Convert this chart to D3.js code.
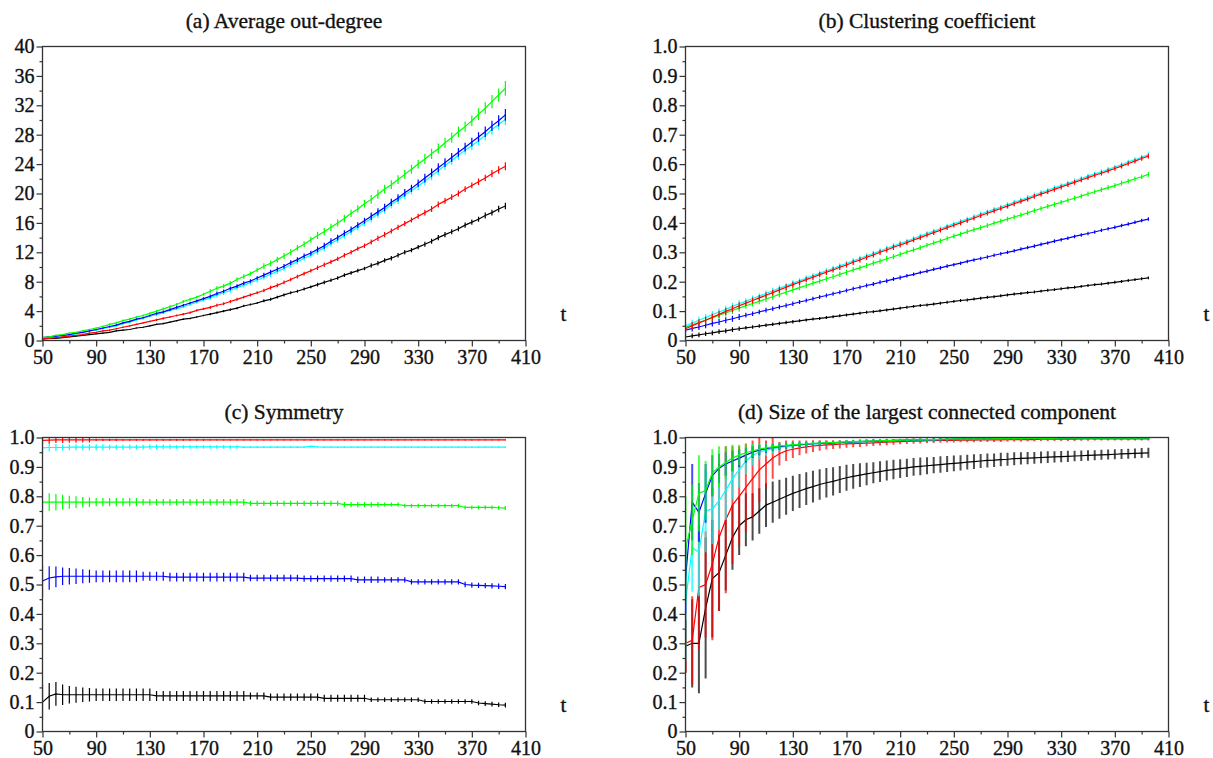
<!DOCTYPE html>
<html>
<head>
<meta charset="utf-8">
<script src="https://cdn.jsdelivr.net/npm/d3@7"></script>
<style>
  body { margin: 0; background: #fff; }
  text { font-family: "Liberation Serif", "Times New Roman", serif; fill: #111; stroke: #111; stroke-width: 0.35px; }
</style>
</head>
<body>
<svg width="1213" height="758"></svg>
<script>
// time steps (x categories)
var tValues = d3.range(50, 400, 5);

// (a) average out-degree
var degGreen = [0.4,0.5,0.7,0.8,1.0,1.1,1.3,1.5,1.7, 1.9,2.2,2.4,2.7,2.9,3.2,3.4,3.7, 4.0,4.3,4.6,4.9,5.3,5.6,5.9,6.3, 6.7,7.1,7.4,7.8,8.3,8.7,9.1,9.6, 10.1,10.5,11.0,11.5,12.0,12.6,13.1,13.7, 14.3,14.8,15.4,16.0,16.6,17.3,17.9,18.6, 19.2,19.9,20.6,21.2,21.9,22.6,23.3,24.0, 24.7,25.4,26.1,26.9,27.6,28.4,29.1,29.9, 30.8,31.6,32.5,33.4,34.3];
var degBlue = [0.4,0.5,0.6,0.7,0.8,1.0,1.1,1.3,1.5, 1.7,1.9,2.1,2.4,2.6,2.9,3.1,3.4, 3.7,3.9,4.2,4.5,4.8,5.1,5.4,5.7, 6.0,6.4,6.7,7.1,7.4,7.8,8.1,8.5, 8.9,9.3,9.7,10.1,10.6,11.0,11.5,11.9, 12.4,12.9,13.5,14.0,14.6,15.1,15.7,16.3, 16.9,17.5,18.1,18.8,19.4,20.1,20.7,21.4, 22.1,22.8,23.5,24.2,24.9,25.6,26.3,27.0, 27.7,28.4,29.2,29.9,30.7];
var degCyan = [0.4,0.5,0.6,0.7,0.8,0.9,1.1,1.3,1.4, 1.6,1.8,2.0,2.3,2.5,2.8,3.0,3.3, 3.5,3.8,4.1,4.3,4.6,4.9,5.2,5.5, 5.8,6.2,6.5,6.8,7.2,7.5,7.9,8.2, 8.6,9.0,9.4,9.8,10.3,10.7,11.2,11.6, 12.1,12.6,13.2,13.7,14.3,14.8,15.4,16.0, 16.6,17.2,17.8,18.5,19.1,19.8,20.4,21.0, 21.7,22.4,23.1,23.8,24.5,25.2,25.9,26.5, 27.2,27.9,28.7,29.4,30.1];
var degRed = [0.3,0.3,0.4,0.5,0.6,0.7,0.8,1.0,1.1, 1.3,1.4,1.6,1.8,2.0,2.2,2.4,2.6, 2.8,3.0,3.2,3.4,3.6,3.8,4.1,4.3, 4.5,4.8,5.0,5.3,5.6,5.9,6.2,6.5, 6.8,7.2,7.5,7.9,8.3,8.7,9.1,9.5, 9.9,10.3,10.7,11.1,11.6,12.0,12.5,12.9, 13.4,13.9,14.4,14.9,15.4,15.9,16.4,16.9, 17.4,17.9,18.5,19.0,19.5,20.0,20.6,21.1, 21.6,22.1,22.7,23.2,23.7];
var degBlack = [0.2,0.3,0.3,0.4,0.5,0.6,0.7,0.8,0.9, 1.0,1.1,1.3,1.4,1.5,1.7,1.8,2.0, 2.2,2.3,2.5,2.7,2.9,3.0,3.2,3.4, 3.6,3.8,4.0,4.2,4.4,4.7,4.9,5.1, 5.4,5.6,5.9,6.2,6.5,6.7,7.0,7.3, 7.6,7.9,8.2,8.5,8.9,9.2,9.5,9.8, 10.2,10.5,10.9,11.2,11.6,12.0,12.3,12.7, 13.1,13.5,14.0,14.4,14.8,15.2,15.7,16.1, 16.5,17.0,17.4,17.9,18.3];
var degErrGreen = [0.1,0.1,0.1,0.1,0.1,0.1,0.1,0.1,0.1, 0.15,0.15,0.15,0.15,0.15,0.15,0.15,0.15, 0.2,0.2,0.2,0.2,0.2,0.2,0.2,0.2, 0.3,0.3,0.3,0.3,0.3,0.3,0.3,0.3, 0.4,0.4,0.4,0.4,0.4,0.4,0.4,0.4, 0.5,0.5,0.5,0.5,0.5,0.5,0.5,0.5, 0.6,0.6,0.6,0.6,0.6,0.6,0.6,0.6, 0.7,0.7,0.7,0.7,0.7,0.7,0.7,0.7, 0.8,0.8,0.9,0.9,1.0];
var degErrBlue = [0.1,0.1,0.1,0.1,0.1,0.1,0.1,0.1,0.1, 0.12,0.12,0.12,0.12,0.12,0.12,0.12,0.12, 0.18,0.18,0.18,0.18,0.18,0.18,0.18,0.18, 0.25,0.25,0.25,0.25,0.25,0.25,0.25,0.25, 0.32,0.32,0.32,0.32,0.32,0.32,0.32,0.32, 0.4,0.4,0.4,0.4,0.4,0.4,0.4,0.4, 0.5,0.5,0.5,0.5,0.5,0.5,0.5,0.5, 0.6,0.6,0.6,0.6,0.6,0.6,0.6,0.6, 0.65,0.7,0.7,0.75,0.8];
var degErrCyan = [0.1,0.1,0.1,0.1,0.1,0.1,0.1,0.1,0.1, 0.15,0.15,0.15,0.15,0.15,0.15,0.15,0.15, 0.2,0.2,0.2,0.2,0.2,0.2,0.2,0.2, 0.3,0.3,0.3,0.3,0.3,0.3,0.3,0.3, 0.35,0.35,0.35,0.35,0.35,0.35,0.35,0.35, 0.45,0.45,0.45,0.45,0.45,0.45,0.45,0.45, 0.55,0.55,0.55,0.55,0.55,0.55,0.55,0.55, 0.6,0.6,0.6,0.6,0.6,0.6,0.6,0.6, 0.65,0.7,0.7,0.75,0.8];
var degErrRed = [0.08,0.08,0.08,0.08,0.08,0.08,0.08,0.08,0.08, 0.1,0.1,0.1,0.1,0.1,0.1,0.1,0.1, 0.15,0.15,0.15,0.15,0.15,0.15,0.15,0.15, 0.2,0.2,0.2,0.2,0.2,0.2,0.2,0.2, 0.25,0.25,0.25,0.25,0.25,0.25,0.25,0.25, 0.3,0.3,0.3,0.3,0.3,0.3,0.3,0.3, 0.35,0.35,0.35,0.35,0.35,0.35,0.35,0.35, 0.4,0.4,0.4,0.4,0.4,0.4,0.4,0.4, 0.45,0.45,0.5,0.5,0.55];
var degErrBlack = [0.06,0.06,0.06,0.06,0.06,0.06,0.06,0.06,0.06, 0.08,0.08,0.08,0.08,0.08,0.08,0.08,0.08, 0.1,0.1,0.1,0.1,0.1,0.1,0.1,0.1, 0.15,0.15,0.15,0.15,0.15,0.15,0.15,0.15, 0.2,0.2,0.2,0.2,0.2,0.2,0.2,0.2, 0.25,0.25,0.25,0.25,0.25,0.25,0.25,0.25, 0.3,0.3,0.3,0.3,0.3,0.3,0.3,0.3, 0.35,0.35,0.35,0.35,0.35,0.35,0.35,0.35, 0.35,0.4,0.4,0.45,0.45];

// (b) clustering coefficient
var clusCyan = [0.050,0.059,0.069,0.078,0.088,0.097,0.106,0.116,0.125, 0.134,0.143,0.151,0.160,0.169,0.178,0.186,0.195, 0.203,0.212,0.220,0.229,0.237,0.245,0.254,0.262, 0.271,0.279,0.288,0.296,0.305,0.313,0.322,0.330, 0.338,0.347,0.355,0.364,0.372,0.380,0.389,0.397, 0.405,0.413,0.421,0.430,0.438,0.446,0.454,0.462, 0.470,0.478,0.486,0.495,0.503,0.511,0.519,0.527, 0.535,0.543,0.551,0.559,0.567,0.574,0.582,0.590, 0.598,0.607,0.615,0.624,0.632];
var clusRed = [0.040,0.050,0.060,0.069,0.079,0.089,0.099,0.108,0.118, 0.127,0.136,0.145,0.154,0.163,0.172,0.181,0.190, 0.198,0.207,0.215,0.224,0.232,0.240,0.249,0.257, 0.266,0.274,0.283,0.291,0.300,0.308,0.317,0.325, 0.333,0.342,0.350,0.359,0.367,0.375,0.384,0.392, 0.400,0.408,0.416,0.425,0.433,0.441,0.449,0.457, 0.465,0.473,0.481,0.490,0.498,0.506,0.514,0.522, 0.530,0.538,0.546,0.554,0.562,0.569,0.577,0.585, 0.593,0.602,0.610,0.619,0.627];
var clusGreen = [0.045,0.053,0.061,0.069,0.078,0.086,0.094,0.102,0.110, 0.118,0.126,0.133,0.141,0.149,0.157,0.164,0.172, 0.180,0.187,0.195,0.202,0.210,0.217,0.225,0.232, 0.240,0.247,0.255,0.263,0.270,0.278,0.285,0.293, 0.301,0.308,0.316,0.324,0.332,0.339,0.347,0.355, 0.362,0.370,0.377,0.384,0.391,0.399,0.406,0.413, 0.420,0.427,0.434,0.442,0.449,0.456,0.463,0.470, 0.477,0.484,0.491,0.499,0.506,0.513,0.520,0.527, 0.535,0.542,0.550,0.557,0.565];
var clusBlue = [0.035,0.041,0.046,0.052,0.058,0.063,0.069,0.074,0.080, 0.086,0.091,0.097,0.103,0.108,0.114,0.119,0.125, 0.131,0.136,0.142,0.148,0.153,0.159,0.164,0.170, 0.176,0.181,0.187,0.192,0.198,0.203,0.209,0.214, 0.220,0.225,0.231,0.236,0.242,0.247,0.253,0.258, 0.263,0.269,0.274,0.279,0.284,0.290,0.295,0.300, 0.305,0.311,0.316,0.321,0.327,0.332,0.338,0.343, 0.348,0.354,0.359,0.364,0.369,0.375,0.380,0.385, 0.391,0.396,0.402,0.408,0.413];
var clusBlack = [0.012,0.016,0.019,0.023,0.026,0.030,0.033,0.037,0.040, 0.043,0.046,0.049,0.052,0.055,0.058,0.061,0.064, 0.067,0.070,0.073,0.075,0.078,0.081,0.084,0.087, 0.090,0.093,0.096,0.098,0.101,0.104,0.107,0.110, 0.113,0.116,0.119,0.121,0.124,0.127,0.130,0.133, 0.136,0.138,0.141,0.144,0.147,0.149,0.152,0.155, 0.158,0.160,0.163,0.165,0.168,0.171,0.173,0.176, 0.179,0.181,0.184,0.187,0.190,0.192,0.195,0.198, 0.201,0.204,0.207,0.210,0.213];
var clusErrWide = [0.012,0.012,0.012,0.012,0.012,0.012,0.012,0.012,0.012, 0.01,0.01,0.01,0.01,0.01,0.01,0.01,0.01, 0.009,0.009,0.009,0.009,0.009,0.009,0.009,0.009, 0.009,0.009,0.009,0.009,0.009,0.009,0.009,0.009, 0.008,0.008,0.008,0.008,0.008,0.008,0.008,0.008, 0.008,0.008,0.008,0.008,0.008,0.008,0.008,0.008, 0.008,0.008,0.008,0.008,0.008,0.008,0.008,0.008, 0.008,0.008,0.008,0.008,0.008,0.008,0.008,0.008, 0.008,0.008,0.008,0.008,0.008];
var clusErrBlue = [0.01,0.01,0.01,0.01,0.01,0.01,0.01,0.01,0.01, 0.008,0.008,0.008,0.008,0.008,0.008,0.008,0.008, 0.007,0.007,0.007,0.007,0.007,0.007,0.007,0.007, 0.007,0.007,0.007,0.007,0.007,0.007,0.007,0.007, 0.006,0.006,0.006,0.006,0.006,0.006,0.006,0.006, 0.006,0.006,0.006,0.006,0.006,0.006,0.006,0.006, 0.006,0.006,0.006,0.006,0.006,0.006,0.006,0.006, 0.006,0.006,0.006,0.006,0.006,0.006,0.006,0.006, 0.006,0.006,0.006,0.006,0.006];
var clusErrBlack = [0.008,0.008,0.008,0.008,0.008,0.008,0.008,0.008,0.008, 0.006,0.006,0.006,0.006,0.006,0.006,0.006,0.006, 0.005,0.005,0.005,0.005,0.005,0.005,0.005,0.005, 0.005,0.005,0.005,0.005,0.005,0.005,0.005,0.005, 0.005,0.005,0.005,0.005,0.005,0.005,0.005,0.005, 0.005,0.005,0.005,0.005,0.005,0.005,0.005,0.005, 0.005,0.005,0.005,0.005,0.005,0.005,0.005,0.005, 0.005,0.005,0.005,0.005,0.005,0.005,0.005,0.005, 0.005,0.005,0.005,0.005,0.005];

// (c) symmetry
var symRed = [0.990,0.991,0.992,0.992,0.992,0.992,0.992,0.992,0.992, 0.992,0.992,0.992,0.992,0.992,0.992,0.992,0.992, 0.992,0.992,0.992,0.992,0.992,0.992,0.992,0.992, 0.992,0.992,0.992,0.992,0.992,0.992,0.992,0.992, 0.992,0.992,0.992,0.992,0.992,0.992,0.992,0.992, 0.992,0.992,0.992,0.992,0.992,0.992,0.992,0.992, 0.992,0.992,0.992,0.992,0.992,0.992,0.992,0.992, 0.992,0.992,0.992,0.992,0.992,0.992,0.992,0.992, 0.992,0.992,0.992,0.992,0.992];
var symErrRed = [0.012,0.012,0.011,0.011,0.01,0.01,0.009,0.009,0.004, 0.004,0.004,0.004,0.003,0.003,0.003,0.003,0.003, 0.003,0.003,0.003,0.003,0.003,0.003,0.003,0.003, 0.002,0.002,0.002,0.002,0.002,0.002,0.002,0.002, 0.002,0.002,0.002,0.002,0.002,0.002,0.002,0.002, 0.002,0.002,0.002,0.002,0.002,0.002,0.002,0.002, 0.002,0.002,0.002,0.002,0.002,0.002,0.002,0.002, 0.002,0.002,0.002,0.002,0.002,0.002,0.002,0.002, 0.002,0.002,0.002,0.002,0.002];
var symCyan = [0.965,0.966,0.966,0.966,0.967,0.967,0.967,0.967,0.967, 0.967,0.967,0.967,0.967,0.967,0.967,0.967,0.968, 0.968,0.968,0.968,0.968,0.968,0.968,0.968,0.968, 0.968,0.968,0.968,0.968,0.968,0.967,0.967,0.967, 0.967,0.967,0.967,0.967,0.967,0.967,0.967,0.970, 0.968,0.967,0.967,0.967,0.967,0.967,0.967,0.967, 0.967,0.967,0.967,0.967,0.967,0.967,0.967,0.967, 0.967,0.967,0.967,0.967,0.967,0.967,0.967,0.967, 0.967,0.967,0.967,0.967,0.967];
var symErrCyan = [0.02,0.014,0.012,0.01,0.01,0.01,0.01,0.01,0.01, 0.01,0.008,0.008,0.008,0.008,0.008,0.008,0.008, 0.008,0.008,0.008,0.006,0.006,0.006,0.006,0.006, 0.006,0.006,0.006,0.006,0.006,0.003,0.003,0.003, 0.003,0.003,0.003,0.003,0.003,0.003,0.003,0.003, 0.002,0.002,0.002,0.002,0.002,0.002,0.002,0.002, 0.002,0.002,0.002,0.002,0.002,0.002,0.002,0.002, 0.002,0.002,0.002,0.002,0.002,0.002,0.002,0.002, 0.002,0.002,0.002,0.002,0.002];
var symGreen = [0.780,0.780,0.780,0.780,0.780,0.780,0.780,0.780,0.780, 0.780,0.780,0.780,0.780,0.780,0.780,0.780,0.780, 0.780,0.780,0.780,0.780,0.780,0.780,0.780,0.780, 0.780,0.780,0.780,0.780,0.780,0.780,0.776,0.776, 0.776,0.776,0.776,0.776,0.776,0.776,0.776,0.776, 0.776,0.776,0.776,0.776,0.772,0.772,0.772,0.772, 0.772,0.772,0.772,0.772,0.772,0.768,0.768,0.768, 0.768,0.768,0.768,0.768,0.768,0.768,0.762,0.762, 0.762,0.762,0.762,0.761,0.760];
var symErrGreen = [0.035,0.03,0.028,0.025,0.022,0.02,0.018,0.016,0.014, 0.014,0.014,0.014,0.014,0.014,0.014,0.011,0.011, 0.011,0.011,0.011,0.011,0.011,0.011,0.011,0.011, 0.011,0.011,0.011,0.011,0.011,0.011,0.009,0.009, 0.009,0.009,0.009,0.009,0.009,0.009,0.009,0.009, 0.009,0.009,0.009,0.009,0.009,0.009,0.009,0.009, 0.009,0.009,0.007,0.007,0.007,0.007,0.007,0.007, 0.007,0.007,0.007,0.007,0.007,0.007,0.007,0.007, 0.007,0.007,0.007,0.007,0.007];
var symBlue = [0.512,0.522,0.526,0.528,0.528,0.528,0.528,0.528,0.528, 0.528,0.528,0.528,0.528,0.528,0.528,0.528,0.528, 0.528,0.528,0.525,0.525,0.525,0.525,0.525,0.525, 0.525,0.525,0.525,0.525,0.525,0.525,0.522,0.522, 0.522,0.522,0.522,0.522,0.522,0.522,0.520,0.520, 0.520,0.520,0.520,0.520,0.520,0.520,0.516,0.516, 0.516,0.516,0.516,0.516,0.516,0.516,0.509,0.509, 0.509,0.509,0.509,0.509,0.509,0.509,0.500,0.498, 0.497,0.496,0.495,0.494,0.493];
var symErrBlue = [0.055,0.04,0.035,0.03,0.028,0.026,0.024,0.022,0.02, 0.02,0.02,0.02,0.02,0.02,0.02,0.015,0.015, 0.015,0.015,0.015,0.015,0.015,0.015,0.015,0.015, 0.015,0.015,0.015,0.015,0.015,0.015,0.011,0.011, 0.011,0.011,0.011,0.011,0.011,0.011,0.011,0.011, 0.011,0.011,0.011,0.011,0.011,0.011,0.011,0.011, 0.011,0.011,0.009,0.009,0.009,0.009,0.009,0.009, 0.009,0.009,0.009,0.009,0.009,0.009,0.009,0.009, 0.009,0.009,0.009,0.009,0.009];
var symBlack = [0.100,0.120,0.128,0.125,0.125,0.125,0.125,0.125,0.125, 0.125,0.125,0.125,0.125,0.125,0.125,0.125,0.125, 0.121,0.121,0.121,0.121,0.121,0.121,0.121,0.121, 0.121,0.121,0.121,0.121,0.121,0.121,0.121,0.121, 0.121,0.117,0.117,0.117,0.117,0.117,0.117,0.117, 0.117,0.113,0.113,0.113,0.113,0.113,0.113,0.113, 0.108,0.108,0.108,0.108,0.108,0.108,0.108,0.108, 0.102,0.102,0.102,0.102,0.102,0.102,0.102,0.102, 0.097,0.095,0.093,0.091,0.090];
var symErrBlack = [0.06,0.045,0.04,0.035,0.03,0.027,0.025,0.023,0.021, 0.021,0.021,0.021,0.021,0.021,0.021,0.021,0.021, 0.017,0.017,0.017,0.017,0.017,0.017,0.017,0.017, 0.017,0.017,0.017,0.017,0.017,0.017,0.012,0.012, 0.012,0.012,0.012,0.012,0.012,0.012,0.012,0.012, 0.012,0.012,0.012,0.012,0.012,0.012,0.012,0.012, 0.008,0.008,0.008,0.008,0.008,0.008,0.008,0.008, 0.008,0.008,0.008,0.008,0.008,0.008,0.008,0.008, 0.008,0.008,0.008,0.008,0.008];

// (d) size of the largest connected component
var lccBlack = [0.29,0.30,0.30,0.42,0.52,0.54,0.60,0.66,0.70, 0.72,0.73,0.75,0.77,0.78,0.79,0.80,0.81, 0.818,0.826,0.833,0.840,0.846,0.851,0.857,0.863, 0.868,0.872,0.876,0.880,0.884,0.888,0.891,0.894, 0.897,0.900,0.902,0.904,0.906,0.908,0.910,0.912, 0.914,0.916,0.918,0.920,0.922,0.923,0.925,0.926, 0.928,0.929,0.930,0.931,0.932,0.933,0.934,0.935, 0.936,0.937,0.938,0.939,0.940,0.941,0.942,0.943, 0.944,0.945,0.946,0.947,0.948];
var lccErrBlack = [0.09,0.15,0.17,0.24,0.2,0.13,0.12,0.11,0.1, 0.09,0.08,0.077,0.074,0.07,0.066,0.063,0.06, 0.058,0.056,0.054,0.052,0.05,0.048,0.046,0.044, 0.042,0.04,0.038,0.036,0.035,0.034,0.033,0.032, 0.031,0.03,0.03,0.029,0.028,0.028,0.027,0.027, 0.026,0.025,0.025,0.024,0.024,0.023,0.023,0.022, 0.022,0.021,0.021,0.02,0.02,0.02,0.019,0.019, 0.019,0.018,0.018,0.018,0.017,0.017,0.017,0.017, 0.017,0.017,0.017,0.017,0.017];
var lccRed = [0.30,0.31,0.49,0.50,0.57,0.66,0.72,0.77,0.80, 0.83,0.86,0.89,0.91,0.93,0.945,0.955,0.96, 0.965,0.968,0.971,0.973,0.975,0.976,0.977,0.978, 0.979,0.980,0.981,0.982,0.983,0.984,0.985,0.986, 0.987,0.988,0.988,0.989,0.989,0.990,0.990,0.990, 0.991,0.991,0.991,0.992,0.992,0.992,0.992,0.993, 0.993,0.993,0.993,0.993,0.994,0.994,0.994,0.994, 0.994,0.994,0.995,0.995,0.995,0.995,0.995,0.995, 0.995,0.995,0.995,0.995,0.995];
var lccErrRed = [0.1,0.15,0.21,0.18,0.26,0.25,0.25,0.2,0.17, 0.15,0.13,0.11,0.08,0.07,0.04,0.035,0.03, 0.025,0.022,0.02,0.018,0.016,0.015,0.014,0.013, 0.012,0.012,0.011,0.011,0.01,0.01,0.01,0.009, 0.009,0.009,0.008,0.008,0.008,0.008,0.007,0.007, 0.007,0.007,0.007,0.007,0.007,0.007,0.007,0.007, 0.007,0.007,0.006,0.006,0.006,0.006,0.006,0.006, 0.006,0.006,0.006,0.006,0.005,0.005,0.005,0.005, 0.005,0.005,0.005,0.005,0.005];
var lccGreen = [0.62,0.72,0.81,0.82,0.88,0.90,0.915,0.93,0.94, 0.948,0.955,0.96,0.965,0.968,0.971,0.973,0.975, 0.977,0.978,0.980,0.981,0.982,0.983,0.984,0.985, 0.986,0.987,0.988,0.988,0.989,0.990,0.990,0.991, 0.991,0.992,0.992,0.993,0.993,0.994,0.994,0.995, 0.995,0.995,0.995,0.995,0.995,0.996,0.996,0.996, 0.996,0.996,0.997,0.997,0.997,0.997,0.997,0.998, 0.998,0.998,0.998,0.998,0.998,0.998,0.998,0.998, 0.998,0.998,0.998,0.998,0.998];
var lccErrGreen = [0.18,0.12,0.13,0.1,0.08,0.07,0.055,0.045,0.035, 0.028,0.022,0.018,0.015,0.013,0.011,0.01,0.009, 0.008,0.008,0.007,0.007,0.006,0.006,0.006,0.006, 0.006,0.006,0.006,0.006,0.006,0.006,0.005,0.005, 0.005,0.005,0.005,0.005,0.005,0.005,0.005,0.005, 0.004,0.004,0.004,0.004,0.004,0.004,0.004,0.004, 0.004,0.004,0.004,0.004,0.004,0.004,0.004,0.004, 0.004,0.004,0.004,0.004,0.004,0.004,0.004,0.004, 0.004,0.004,0.004,0.004,0.004];
var lccBlue = [0.52,0.78,0.745,0.81,0.87,0.895,0.91,0.92,0.93, 0.94,0.95,0.957,0.962,0.966,0.969,0.972,0.974, 0.976,0.977,0.979,0.980,0.981,0.982,0.983,0.984, 0.985,0.986,0.987,0.988,0.988,0.989,0.990,0.990, 0.991,0.991,0.992,0.992,0.993,0.993,0.994,0.994, 0.995,0.995,0.995,0.995,0.995,0.996,0.996,0.996, 0.996,0.996,0.997,0.997,0.997,0.997,0.997,0.998, 0.998,0.998,0.998,0.998,0.998,0.998,0.998,0.998, 0.998,0.998,0.998,0.998,0.998];
var lccErrBlue = [0.12,0.13,0.1,0.1,0.07,0.05,0.04,0.035,0.03, 0.025,0.02,0.017,0.014,0.012,0.011,0.01,0.009, 0.008,0.008,0.007,0.007,0.006,0.006,0.006,0.006, 0.006,0.006,0.006,0.006,0.006,0.006,0.005,0.005, 0.005,0.005,0.005,0.005,0.005,0.005,0.005,0.005, 0.004,0.004,0.004,0.004,0.004,0.004,0.004,0.004, 0.004,0.004,0.004,0.004,0.004,0.004,0.004,0.004, 0.004,0.004,0.004,0.004,0.004,0.004,0.004,0.004, 0.004,0.004,0.004,0.004,0.004];
var lccCyan = [0.44,0.625,0.61,0.75,0.757,0.785,0.82,0.86,0.89, 0.92,0.94,0.95,0.957,0.962,0.966,0.969,0.972, 0.974,0.976,0.978,0.979,0.980,0.981,0.982,0.983, 0.984,0.985,0.986,0.987,0.988,0.989,0.990,0.990, 0.991,0.991,0.992,0.992,0.993,0.993,0.994,0.994, 0.995,0.995,0.995,0.995,0.995,0.996,0.996,0.996, 0.996,0.996,0.997,0.997,0.997,0.997,0.997,0.998, 0.998,0.998,0.998,0.998,0.998,0.998,0.998,0.998, 0.998,0.998,0.998,0.998,0.998];
var lccErrCyan = [0.2,0.15,0.15,0.14,0.12,0.1,0.1,0.07,0.06, 0.045,0.035,0.025,0.02,0.016,0.013,0.011,0.01, 0.009,0.008,0.008,0.007,0.006,0.006,0.006,0.006, 0.006,0.006,0.006,0.006,0.006,0.006,0.005,0.005, 0.005,0.005,0.005,0.005,0.005,0.005,0.005,0.005, 0.004,0.004,0.004,0.004,0.004,0.004,0.004,0.004, 0.004,0.004,0.004,0.004,0.004,0.004,0.004,0.004, 0.004,0.004,0.004,0.004,0.004,0.004,0.004,0.004, 0.004,0.004,0.004,0.004,0.004];

var xMajor = [50, 90, 130, 170, 210, 250, 290, 330, 370, 410];
var xMinor = [70, 110, 150, 190, 230, 270, 310, 350, 390];
var degTicks = [0, 4, 8, 12, 16, 20, 24, 28, 32, 36, 40];
var degMinor = [2, 6, 10, 14, 18, 22, 26, 30, 34, 38];
var unitTicks = [0, 0.1, 0.2, 0.3, 0.4, 0.5, 0.6, 0.7, 0.8, 0.9, 1.0];
var unitMinor = [0.05, 0.15, 0.25, 0.35, 0.45, 0.55, 0.65, 0.75, 0.85, 0.95];

var svg = d3.select("svg");

var unitFmt = function (d) { return d === 0 ? "0" : d3.format(".1f")(d); };

var panels = [
  { id: "a", title: "(a) Average out-degree", left: 42.5, top: 46.5, yMax: 40,
    yTicks: degTicks, yMinor: degMinor, fmt: function (d) { return d; },
    barWidth: 1.2, barOpacity: 1,
    series: [
      ["#000000", degBlack, degErrBlack], ["#ff0000", degRed, degErrRed],
      ["#00ffff", degCyan, degErrCyan], ["#0000ff", degBlue, degErrBlue],
      ["#00ff00", degGreen, degErrGreen]] },
  { id: "b", title: "(b) Clustering coefficient", left: 685.5, top: 46.5, yMax: 1,
    yTicks: unitTicks, yMinor: unitMinor, fmt: unitFmt,
    barWidth: 1.2, barOpacity: 1,
    series: [
      ["#000000", clusBlack, clusErrBlack], ["#0000ff", clusBlue, clusErrBlue],
      ["#00ff00", clusGreen, clusErrWide], ["#00ffff", clusCyan, clusErrWide],
      ["#ff0000", clusRed, clusErrWide]] },
  { id: "c", title: "(c) Symmetry", left: 42.5, top: 437.5, yMax: 1,
    yTicks: unitTicks, yMinor: unitMinor, fmt: unitFmt,
    barWidth: 1.2, barOpacity: 1,
    series: [
      ["#000000", symBlack, symErrBlack], ["#0000ff", symBlue, symErrBlue],
      ["#00ff00", symGreen, symErrGreen], ["#00ffff", symCyan, symErrCyan],
      ["#ff0000", symRed, symErrRed]] },
  { id: "d", title: "(d) Size of the largest connected component", left: 685.5, top: 437.5, yMax: 1,
    yTicks: unitTicks, yMinor: unitMinor, fmt: unitFmt,
    barWidth: 2, barOpacity: 0.7,
    series: [
      ["#000000", lccBlack, lccErrBlack], ["#ff0000", lccRed, lccErrRed],
      ["#00ffff", lccCyan, lccErrCyan], ["#0000ff", lccBlue, lccErrBlue],
      ["#00ff00", lccGreen, lccErrGreen]] }
];

var plotW = 483, plotH = 294;

panels.forEach(function (p) {
  var g = svg.append("g").attr("transform", "translate(" + p.left + "," + p.top + ")");
  var x = d3.scaleLinear().domain([50, 410]).range([0, plotW]);
  var y = d3.scaleLinear().domain([0, p.yMax]).range([plotH, 0]);

  g.append("clipPath").attr("id", "clip-" + p.id)
    .append("rect").attr("width", plotW).attr("height", plotH);

  // axes with major and minor ticks
  var yAxis = g.append("g").call(d3.axisLeft(y).tickValues(p.yTicks).tickFormat(p.fmt).tickSize(6).tickPadding(2));
  var yMinorAxis = g.append("g").call(d3.axisLeft(y).tickValues(p.yMinor).tickFormat("").tickSize(3));
  var xAxis = g.append("g").attr("transform", "translate(0," + plotH + ")")
    .call(d3.axisBottom(x).tickValues(xMajor).tickSize(6).tickPadding(3));
  var xMinorAxis = g.append("g").attr("transform", "translate(0," + plotH + ")")
    .call(d3.axisBottom(x).tickValues(xMinor).tickFormat("").tickSize(3));
  [yAxis, yMinorAxis, xAxis, xMinorAxis].forEach(function (a) {
    a.select(".domain").remove();
    a.selectAll("line").attr("stroke", "#333").attr("stroke-width", 1.2);
    a.selectAll("text").attr("font-size", 20).attr("font-family", "Liberation Serif").attr("fill", "#111");
  });

  var plot = g.append("g").attr("clip-path", "url(#clip-" + p.id + ")");
  var line = d3.line().x(function (d, i) { return x(tValues[i]); }).y(function (d) { return y(d); });

  p.series.forEach(function (s) {
    var colour = s[0], values = s[1], errs = s[2];
    plot.append("path").datum(values)
      .attr("fill", "none").attr("stroke", colour).attr("stroke-width", 1.2)
      .attr("d", line);
    plot.append("g").selectAll("line").data(values).enter().append("line")
      .attr("x1", function (d, i) { return x(tValues[i]); })
      .attr("x2", function (d, i) { return x(tValues[i]); })
      .attr("y1", function (d, i) { return y(d - errs[i]); })
      .attr("y2", function (d, i) { return y(d + errs[i]); })
      .attr("stroke", colour).attr("stroke-width", p.barWidth).attr("stroke-opacity", p.barOpacity);
  });

  // frame
  g.append("rect").attr("width", plotW).attr("height", plotH)
    .attr("fill", "none").attr("stroke", "#333").attr("stroke-width", 1.3);

  g.append("text").attr("x", plotW / 2).attr("y", -19).attr("text-anchor", "middle")
    .attr("font-size", 21.5).text(p.title);
  g.append("text").attr("x", plotW + 38).attr("y", plotH - 20).attr("text-anchor", "middle")
    .attr("font-size", 21).text("t");
});
</script>
</body>
</html>
